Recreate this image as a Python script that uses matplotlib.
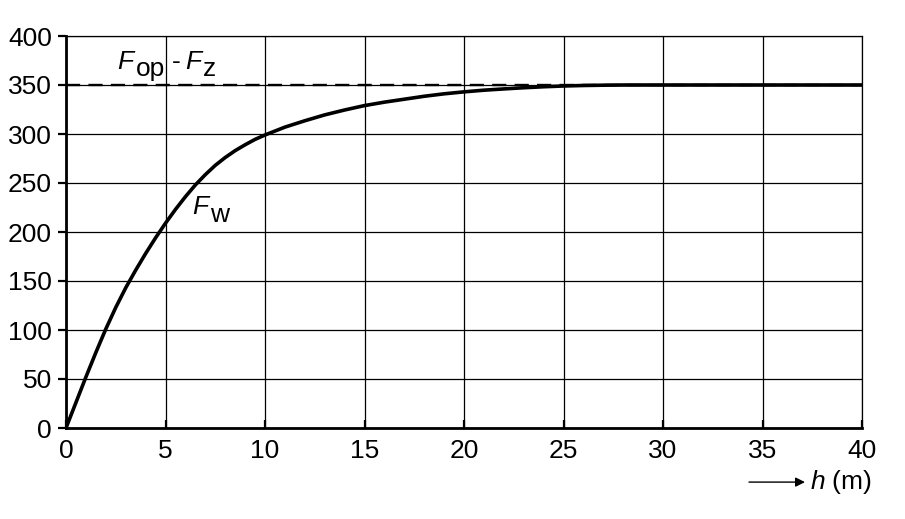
import numpy as np
import matplotlib
matplotlib.use("Agg")
import matplotlib.pyplot as plt

plt.rcParams['font.family'] = ['Liberation Sans', 'DejaVu Sans']
plt.rcParams['mathtext.fontset'] = 'custom'
plt.rcParams['mathtext.rm'] = 'Liberation Sans'
plt.rcParams['mathtext.it'] = 'Liberation Sans:italic'

# values
h = [0, 0.5, 1, 1.5, 2, 2.5, 3, 3.5, 4, 4.5, 5, 5.5, 6, 6.5, 7, 7.5, 8, 8.5, 9, 9.5,
     10, 11, 12, 13, 14, 15, 16, 17, 18, 19, 20, 21, 22, 23, 24, 25, 26, 27, 28, 30, 40]
fw = [0, 26, 52, 77, 101, 123, 143, 161, 178, 194, 209, 223, 236, 248, 258.5, 268, 276, 283, 289, 294.5,
      299, 307, 313.5, 319.5, 324.5, 329, 332.5, 335.5, 338.5, 341, 343, 344.7, 346, 347.2, 348.2, 349, 349.5, 349.8, 350, 350, 350]
f_limit = 350

xticks = [0, 5, 10, 15, 20, 25, 30, 35, 40]
yticks = [0, 50, 100, 150, 200, 250, 300, 350, 400]

fs = 19

fig = plt.figure(figsize=(9.05, 5.19), dpi=100)
ax = fig.add_axes([66/905, 1-428/519, 796/905, 392/519])

ax.set_xlim(0, 40)
ax.set_ylim(0, 400)
ax.set_xticks(xticks)
ax.set_yticks(yticks)
ax.grid(True, color='black', linewidth=0.9)
ax.set_axisbelow(True)

for s in ['left', 'bottom']:
    ax.spines[s].set_linewidth(2.0)
for s in ['top', 'right']:
    ax.spines[s].set_linewidth(0.9)

ax.tick_params(axis='y', direction='out', length=6, width=1.6, pad=4, labelsize=fs)
ax.tick_params(axis='x', direction='in', length=6, width=1.6, pad=8, labelsize=fs)

ax.plot([0, 40], [f_limit, f_limit], color='black', lw=1.7, linestyle=(0, (6, 3.5)))
ax.plot(h, fw, color='black', lw=2.6, solid_capstyle='round', zorder=5)

# labels F_op - F_z and F_w (subscripts same size, lowered)
ax.text(2.55, 366, r'$F$', fontsize=fs, ha='left', va='baseline')
ax.text(3.5, 359, 'op', fontsize=fs, ha='left', va='baseline')
ax.text(5.3, 366, '-', fontsize=fs, ha='left', va='baseline')
ax.text(6.0, 366, r'$F$', fontsize=fs, ha='left', va='baseline')
ax.text(6.9, 359, 'z', fontsize=fs, ha='left', va='baseline')

ax.text(6.35, 218, r'$F$', fontsize=fs, ha='left', va='baseline')
ax.text(7.25, 210, 'w', fontsize=fs, ha='left', va='baseline')

ax.annotate('', xy=((805-66)/796, -0.138), xytext=((749-66)/796, -0.138),
            xycoords='axes fraction',
            arrowprops=dict(arrowstyle='-|>', color='black', lw=1.0,
                            mutation_scale=14, shrinkA=0, shrinkB=0))
ax.text((810-66)/796, -0.138, r'$h$ (m)', fontsize=fs, ha='left', va='center',
        transform=ax.transAxes)

fig.savefig('out.png', dpi=100)
